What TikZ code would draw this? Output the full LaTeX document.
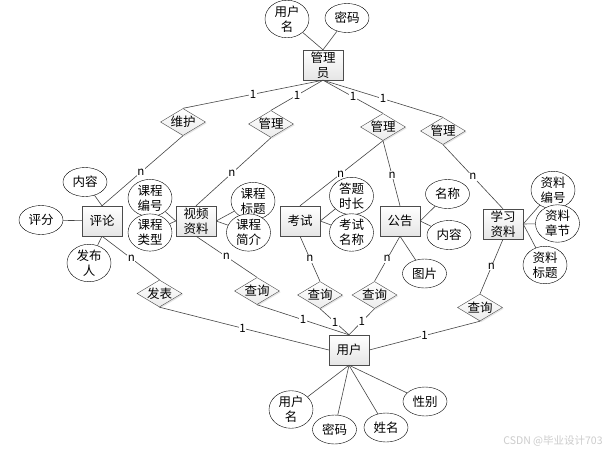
\documentclass[tikz,border=0pt]{standalone}
\usepackage{fontspec}
\setmainfont{Noto Sans CJK SC}
\usetikzlibrary{shapes.geometric,shadows}
\tikzset{
  ent/.style={rectangle, draw=gray!60!black, top color=white, bottom color=gray!20,
    minimum width=40pt, minimum height=30pt, inner sep=0pt, align=center,
    font=\fontsize{12.5}{15}\selectfont,
    drop shadow={shadow xshift=1.2pt, shadow yshift=-1.2pt, fill=gray!60, opacity=0.5}},
  attr/.style={ellipse, draw=black, fill=white, minimum width=44pt, minimum height=29pt,
    inner sep=0pt, align=center, font=\fontsize{12.5}{15}\selectfont},
  rel/.style={diamond, aspect=1.67, draw=gray!60!black, top color=white, bottom color=gray!15,
    minimum width=45pt, minimum height=27pt, inner sep=-2pt,
    font=\fontsize{12.5}{15}\selectfont,
    drop shadow={shadow xshift=1.2pt, shadow yshift=-1.2pt, fill=gray!50, opacity=0.4}},
  conn/.style={draw=gray!55!black, line width=0.6pt},
  lbl/.style={fill=white, inner sep=0.6pt, font=\fontsize{11.5}{12}\selectfont},
}
\begin{document}
\begin{tikzpicture}[x=1pt,y=-1pt]
\useasboundingbox[fill=white] (0,0) rectangle (616,453);
% entities
\node[ent] (admin) at (323,65) {管理\\员};
\node[ent] (pl) at (102,221) {评论};
\node[ent] (sp) at (196,221) {视频\\资料};
\node[ent] (ks) at (300,221) {考试};
\node[ent] (gg) at (400,221) {公告};
\node[ent] (xx) at (503,224) {学习\\资料};
\node[ent] (yh) at (349,350) {用户};
% relations
\node[rel] (wh) at (183,122) {维护};
\node[rel] (gla) at (271,124) {管理};
\node[rel] (glb) at (383,127) {管理};
\node[rel] (glc) at (443,131) {管理};
\node[rel] (fb) at (159.5,293.5) {发表};
\node[rel] (cxa) at (257,291) {查询};
\node[rel] (cxb) at (320,295) {查询};
\node[rel] (cxc) at (374.5,295) {查询};
\node[rel] (cxd) at (480,307.5) {查询};
% attributes
\node[attr] (aun) at (287,19) {用户\\名};
\node[attr] (apw) at (347,18) {密码};
\node[attr] (pnr) at (85,182) {内容};
\node[attr] (ppf) at (41,220) {评分};
\node[attr] (pfb) at (89,263) {发布\\人};
\node[attr] (sbh) at (150,198) {课程\\编号};
\node[attr] (slx) at (150,232.5) {课程\\类型};
\node[attr] (sbt) at (253,201) {课程\\标题};
\node[attr] (sjj) at (248.5,232.5) {课程\\简介};
\node[attr] (ksc) at (351.5,196) {答题\\时长};
\node[attr] (kmc) at (351.5,232.5) {考试\\名称};
\node[attr] (gmc) at (447.5,194) {名称};
\node[attr] (gnr) at (449,235) {内容};
\node[attr] (gtp) at (424.5,273.5) {图片};
\node[attr] (xbh) at (553,190) {资料\\编号};
\node[attr] (xzj) at (557.5,223.5) {资料\\章节};
\node[attr] (xbt) at (545,265) {资料\\标题};
\node[attr] (uun) at (291,409.5) {用户\\名};
\node[attr] (upw) at (334.5,429.5) {密码};
\node[attr] (uxm) at (386,427.5) {姓名};
\node[attr] (uxb) at (425,401.5) {性别};
% watermark
\node[text=gray!40, font=\fontsize{10.5}{12}\selectfont] (wm) at (553,441) {CSDN @毕业设计703};
% attribute connectors
\draw[conn] (aun) -- (admin.north);
\draw[conn] (apw) -- (admin.north);
\draw[conn] (pnr) -- (pl.north);
\draw[conn] (ppf) -- (pl);
\draw[conn] (pfb) -- (pl.south);
\draw[conn] (sbh) -- (sp.west);
\draw[conn] (slx) -- (sp.west);
\draw[conn] (sbt) -- (sp.east);
\draw[conn] (sjj) -- (sp.east);
\draw[conn] (ksc) -- (ks.east);
\draw[conn] (kmc) -- (ks.east);
\draw[conn] (gmc) -- (gg.east);
\draw[conn] (gnr) -- (gg.east);
\draw[conn] (gtp) -- (gg.south);
\draw[conn] (xbh) -- (xx.east);
\draw[conn] (xzj) -- (xx.east);
\draw[conn] (xbt) -- (xx.east);
\draw[conn] (uun) -- (yh.south);
\draw[conn] (upw) -- (yh.south);
\draw[conn] (uxm) -- (yh.south);
\draw[conn] (uxb) -- (yh.south);
% relationship connectors
\draw[conn] (admin.south) -- node[lbl,pos=0.5] {1} (wh.north);
\draw[conn] (admin.south) -- node[lbl,pos=0.5] {1} (gla.north);
\draw[conn] (admin.south) -- node[lbl,pos=0.5] {1} (glb.north);
\draw[conn] (admin.south) -- node[lbl,pos=0.5] {1} (glc.north);
\draw[conn] (wh.south) -- node[lbl,pos=0.52] {n} (pl.north);
\draw[conn] (gla.south) -- node[lbl,pos=0.52] {n} (sp.north);
\draw[conn] (glb.south) -- node[lbl,pos=0.51] {n} (ks.north);
\draw[conn] (glb.south) -- node[lbl,pos=0.53] {n} (gg.north);
\draw[conn] (glc.south) -- node[lbl,pos=0.5] {n} (xx.north);
\draw[conn] (pl.south) -- node[lbl,pos=0.51] {n} (fb.north);
\draw[conn] (sp.south) -- node[lbl,pos=0.5] {n} (cxa.north);
\draw[conn] (ks.south) -- node[lbl,pos=0.5] {n} (cxb.north);
\draw[conn] (gg.south) -- node[lbl,pos=0.5] {n} (cxc.north);
\draw[conn] (xx.south) -- node[lbl,pos=0.5] {n} (cxd.north);
\draw[conn] (fb.south) -- node[lbl,pos=0.49] {1} (yh.west);
\draw[conn] (cxa.south) -- node[lbl,pos=0.5] {1} (yh.north);
\draw[conn] (cxb.south) -- node[lbl,pos=0.52] {1} (yh.north);
\draw[conn] (cxc.south) -- node[lbl,pos=0.5] {1} (yh.north);
\draw[conn] (cxd.south) -- node[lbl,pos=0.5] {1} (yh.east);
\end{tikzpicture}
\end{document}
